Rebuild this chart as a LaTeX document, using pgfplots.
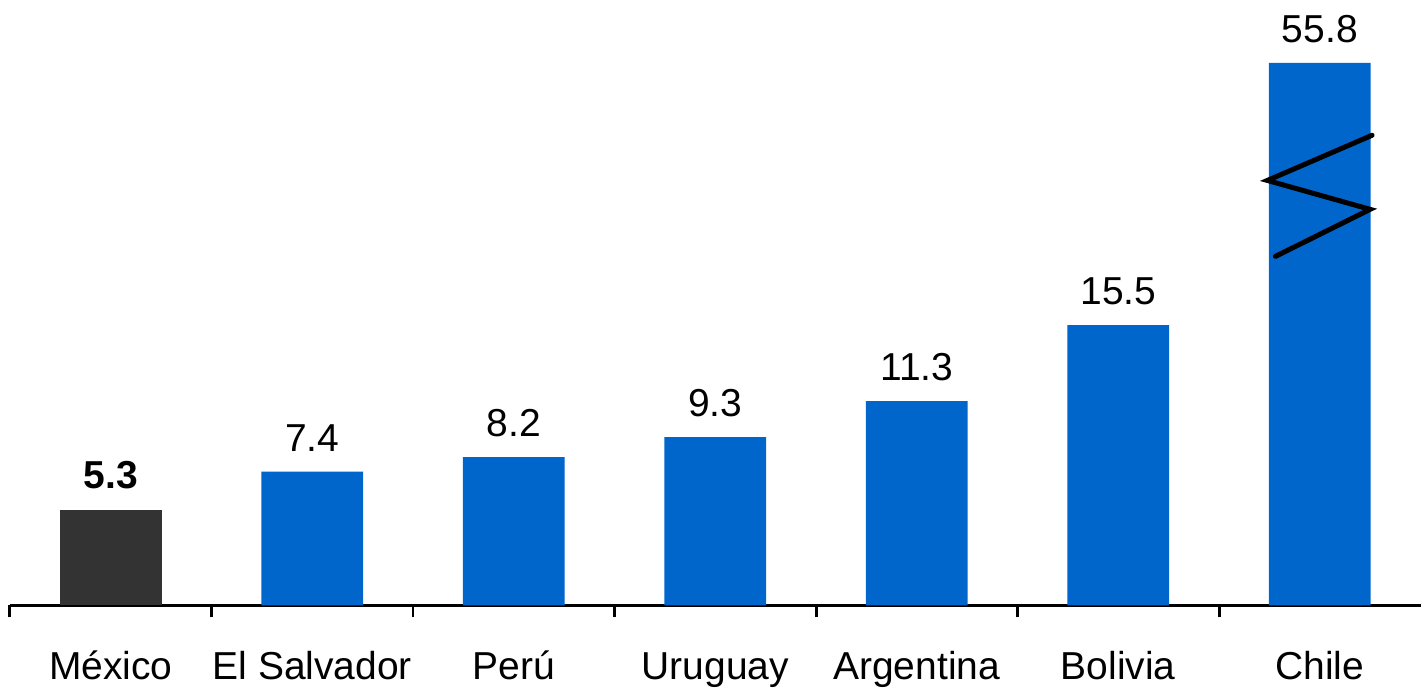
\documentclass[border=0pt]{standalone}
\usepackage{pgfplots}
\pgfplotsset{compat=1.18}
\usepackage{fontspec}
\setmainfont{Liberation Sans}
\definecolor{barblue}{RGB}{0,102,204}
\definecolor{mxgray}{RGB}{51,51,51}
\begin{document}
\begin{tikzpicture}
\begin{axis}[
    name=ax,
    scale only axis,
    width=706pt, height=303pt,
    xmin=-0.5, xmax=6.5, ymin=0, ymax=33.48,
    axis x line*=bottom, axis y line=none,
    axis line style={line width=1.5pt, black},
    ybar, bar width=51pt,
    clip=false,
    xtick={0,...,6},
    xticklabels={México, El Salvador, Perú, Uruguay, Argentina, Bolivia, Chile},
    major tick length=0pt,
    extra x ticks={-0.5,0.5,1.5,2.5,3.5,4.5,5.5},
    extra x tick labels={},
    extra x tick style={major tick length=6pt, tick align=outside,
        tick style={line width=1.5pt, black}},
    xticklabel style={anchor=base, inner sep=0pt, yshift=-37pt,
        font=\fontsize{19.5}{23}\selectfont},
    nodes near coords style={anchor=south, inner sep=0pt, yshift=10pt,
        font=\fontsize{19.5}{23}\selectfont, text=black},
]
\addplot[fill=mxgray, draw=none, bar shift=0pt, nodes near coords,
    point meta=explicit symbolic,
    nodes near coords style={font=\fontsize{19.5}{23}\selectfont\bfseries}]
    table[meta=label] {
x y label
0 5.3 5.3
};
\addplot[fill=barblue, draw=none, bar shift=0pt, nodes near coords,
    point meta=explicit symbolic]
    table[meta=label] {
x y label
1 7.4 7.4
2 8.2 8.2
3 9.3 9.3
4 11.3 11.3
5 15.5 15.5
6 30.0 55.8
};
% axis break mark on the Chile bar
\draw[line width=2.5pt, line cap=round, black]
    (axis cs:5.78,19.3) -- (axis cs:6.25,21.9) -- (axis cs:5.74,23.5) -- (axis cs:6.26,26.0);
\end{axis}
\useasboundingbox ([xshift=-5pt,yshift=-40pt]ax.south west) rectangle (ax.north east);
\end{tikzpicture}
\end{document}
